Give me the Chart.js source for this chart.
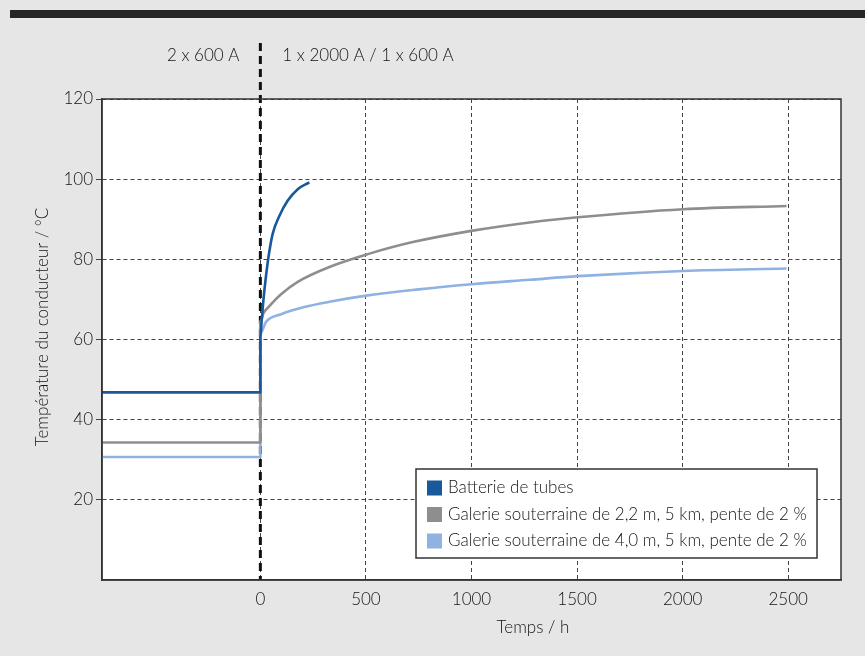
<!DOCTYPE html>
<html>
<head>
<meta charset="utf-8">
<script src="https://cdn.jsdelivr.net/npm/chart.js@4.4.1/dist/chart.umd.min.js"></script>
<style>
  html, body { margin: 0; padding: 0; background: #e6e6e6; }
  canvas { display: block; }
</style>
</head>
<body>
<canvas id="chart" width="865" height="656"></canvas>
<script>
// Series labels and colours
const seriesLabels = [
  'Batterie de tubes',
  'Galerie souterraine de 2,2 m, 5 km, pente de 2 %',
  'Galerie souterraine de 4,0 m, 5 km, pente de 2 %'
];
const seriesColors = ['#18599b', '#8e8e8e', '#8fb2e2'];

// Conductor temperature (°C) against time (h); before t = 0 the load is 2 x 600 A
const tubeHours = [-750, 0, 0, 6, 14, 24, 38, 58, 90, 129, 177, 232];
const tubeTemps = [46.8, 46.8, 60.5, 64.6, 69.6, 74.6, 80.4, 86.3, 90.8, 94.6, 97.5, 99.2];

const gallery22Hours = [-750, 0, 0, 16, 35, 98, 177, 327, 509, 722, 999, 1275, 1504, 2002, 2492];
const gallery22Temps = [34.3, 34.3, 64.5, 66.7, 67.9, 71.3, 74.4, 78.1, 81.3, 84.3, 87.1, 89.2, 90.5, 92.5, 93.3];

const gallery40Hours = [-750, 0, 0, 27, 98, 209, 327, 509, 750, 999, 1275, 1504, 2002, 2492];
const gallery40Temps = [30.7, 30.7, 61.5, 64.4, 66.3, 68.1, 69.4, 71, 72.5, 73.8, 74.9, 75.8, 77.1, 77.7];

// Axis ticks
const xTicks = [0, 500, 1000, 1500, 2000, 2500];
const yTicks = [20, 40, 60, 80, 100, 120];

const phaseLabels = ['2 x 600 A', '1 x 2000 A / 1 x 600 A'];
const xTitle = 'Temps / h';
const yTitle = 'Température du conducteur / °C';

const FONT = 'Lato, "Open Sans", sans-serif';
const TEXT = '#141414';

const toPoints = (xs, ys) => xs.map((x, i) => ({ x, y: ys[i] }));

const decor = {
  id: 'decor',
  beforeDraw(chart) {
    const { ctx, chartArea: a } = chart;
    ctx.save();
    ctx.fillStyle = '#e6e6e6';
    ctx.fillRect(0, 0, chart.width, chart.height);
    ctx.fillStyle = '#262626';
    ctx.fillRect(10, 10, chart.width - 10, 8);
    ctx.fillStyle = '#ffffff';
    ctx.fillRect(a.left, a.top, a.right - a.left, a.bottom - a.top);
    ctx.restore();
  },
  beforeDatasetsDraw(chart) {
    // load change at t = 0
    const { ctx, chartArea: a, scales } = chart;
    const x0 = scales.x.getPixelForValue(0);
    ctx.save();
    ctx.strokeStyle = '#111111';
    ctx.lineWidth = 3;
    ctx.setLineDash([8, 5]);
    ctx.beginPath();
    ctx.moveTo(x0, 43);
    ctx.lineTo(x0, a.bottom);
    ctx.stroke();
    ctx.restore();
  },
  afterDraw(chart) {
    const { ctx, chartArea: a, scales } = chart;
    const x0 = scales.x.getPixelForValue(0);
    ctx.save();
    // plot frame
    ctx.strokeStyle = '#333333';
    ctx.lineWidth = 1.5;
    ctx.strokeRect(a.left, a.top, a.right - a.left, a.bottom - a.top);

    // phase labels either side of t = 0
    ctx.fillStyle = TEXT;
    ctx.font = '300 17px ' + FONT;
    ctx.textBaseline = 'middle';
    ctx.textAlign = 'right';
    ctx.fillText(phaseLabels[0], x0 - 21, 56);
    ctx.textAlign = 'left';
    ctx.fillText(phaseLabels[1], x0 + 22, 56);

    // axis titles
    ctx.textAlign = 'center';
    ctx.fillText(xTitle, 533, 628);
    ctx.save();
    ctx.translate(43, 327);
    ctx.rotate(-Math.PI / 2);
    ctx.fillText(yTitle, 0, 0);
    ctx.restore();

    // legend
    const lx = 416, ly = 469, lw = 401, lh = 89;
    ctx.fillStyle = '#ffffff';
    ctx.fillRect(lx, ly, lw, lh);
    ctx.strokeStyle = '#333333';
    ctx.lineWidth = 1.5;
    ctx.strokeRect(lx, ly, lw, lh);
    ctx.textAlign = 'left';
    chart.data.datasets.forEach((ds, i) => {
      const cy = ly + 19 + i * 26.5;
      ctx.fillStyle = ds.borderColor;
      ctx.fillRect(lx + 11, cy - 7.5, 15, 15);
      ctx.fillStyle = TEXT;
      ctx.fillText(ds.label, lx + 32, cy);
    });
    ctx.restore();
  }
};

const datasets = [
  { label: seriesLabels[0], data: toPoints(tubeHours, tubeTemps), borderColor: seriesColors[0] },
  { label: seriesLabels[1], data: toPoints(gallery22Hours, gallery22Temps), borderColor: seriesColors[1] },
  { label: seriesLabels[2], data: toPoints(gallery40Hours, gallery40Temps), borderColor: seriesColors[2] }
].map(d => Object.assign(d, {
  showLine: true, pointRadius: 0, borderWidth: 2.6, fill: false,
  cubicInterpolationMode: 'monotone', tension: 0.4,
  backgroundColor: d.borderColor, borderJoinStyle: 'round'
}));

new Chart(document.getElementById('chart'), {
  type: 'scatter',
  data: { datasets },
  plugins: [decor],
  options: {
    responsive: false,
    animation: false,
    devicePixelRatio: 1,
    layout: { padding: { top: 99, right: 24, bottom: 0, left: 0 } },
    plugins: { legend: { display: false }, tooltip: { enabled: false } },
    scales: {
      x: {
        type: 'linear', min: -750, max: 2750,
        afterBuildTicks: s => { s.ticks = xTicks.map(v => ({ value: v })); },
        afterFit: s => { s.height = 76; },
        ticks: { color: TEXT, font: { family: FONT, size: 17, weight: 300 }, padding: 9, maxRotation: 0,
                 callback: v => String(v) },
        grid: { color: '#444444', lineWidth: 1, drawTicks: false },
        border: { display: true, color: '#333333', width: 1.5, dash: [4, 3] }
      },
      y: {
        type: 'linear', min: 0, max: 120,
        afterBuildTicks: s => { s.ticks = yTicks.map(v => ({ value: v })); },
        afterFit: s => { s.width = 102; },
        ticks: { color: TEXT, font: { family: FONT, size: 17, weight: 300 }, padding: 3,
                 callback: v => String(v) },
        grid: { color: '#444444', lineWidth: 1, drawTicks: true, tickLength: 6 },
        border: { display: true, color: '#333333', width: 1.5, dash: [4, 3] }
      }
    }
  }
});
</script>
</body>
</html>
